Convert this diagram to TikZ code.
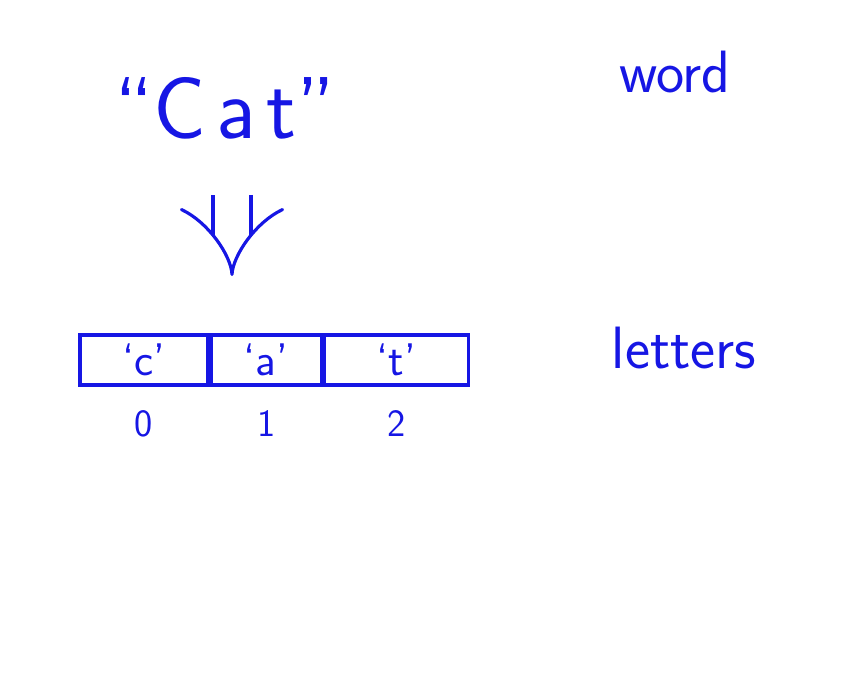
\documentclass[tikz,border=0pt]{standalone}
\usepackage{xcolor}
\usepackage{tikz}
\usetikzlibrary{arrows.meta,positioning,calc,fit}
\definecolor{ink}{RGB}{22,22,228}

\begin{document}
\begin{tikzpicture}[
    x=0.02cm, y=-0.02cm,
    ink/.style={text=ink, font=\sffamily},
    cell/.style={draw=ink, line width=1.8pt, minimum height=1cm, inner sep=0pt, text=ink, font=\sffamily\fontsize{26}{28}\selectfont},
    idx/.style={text=ink, font=\sffamily\fontsize{22}{24}\selectfont},
    imp/.style={draw=ink, line width=1.8pt, double distance=0.7cm, -{Implies[length=0.5cm]}},
]
    \useasboundingbox (0,0) rectangle (860,675);

    % Word
    \node[ink, font=\sffamily\fontsize{50}{54}\selectfont] (cat) at (225,108) {``C\kern0.12em a\kern0.12em t''};
    \node[ink, font=\sffamily\fontsize{34}{38}\selectfont] (word) at (675,72) {word};

    % Letters
    \node[cell, minimum width=2.56cm] (cellc) at (144,360) {`c'};
    \node[cell, minimum width=2.2cm, right=0pt of cellc] (cella) {`a'};
    \node[cell, minimum width=2.88cm, right=0pt of cella] (cellt) {`t'};
    \node[ink, font=\sffamily\fontsize{34}{38}\selectfont] (letters) at (684,348) {letters};

    % Indices
    \node[idx, below=0.35cm of cellc] (i0) {0};
    \node[idx, below=0.35cm of cella] (i1) {1};
    \node[idx, below=0.35cm of cellt] (i2) {2};

    % Arrow
    \coordinate (from) at (232,195);
    \coordinate (to) at (232,276);
    \draw[imp] (from) -- (to);
\end{tikzpicture}
\end{document}
